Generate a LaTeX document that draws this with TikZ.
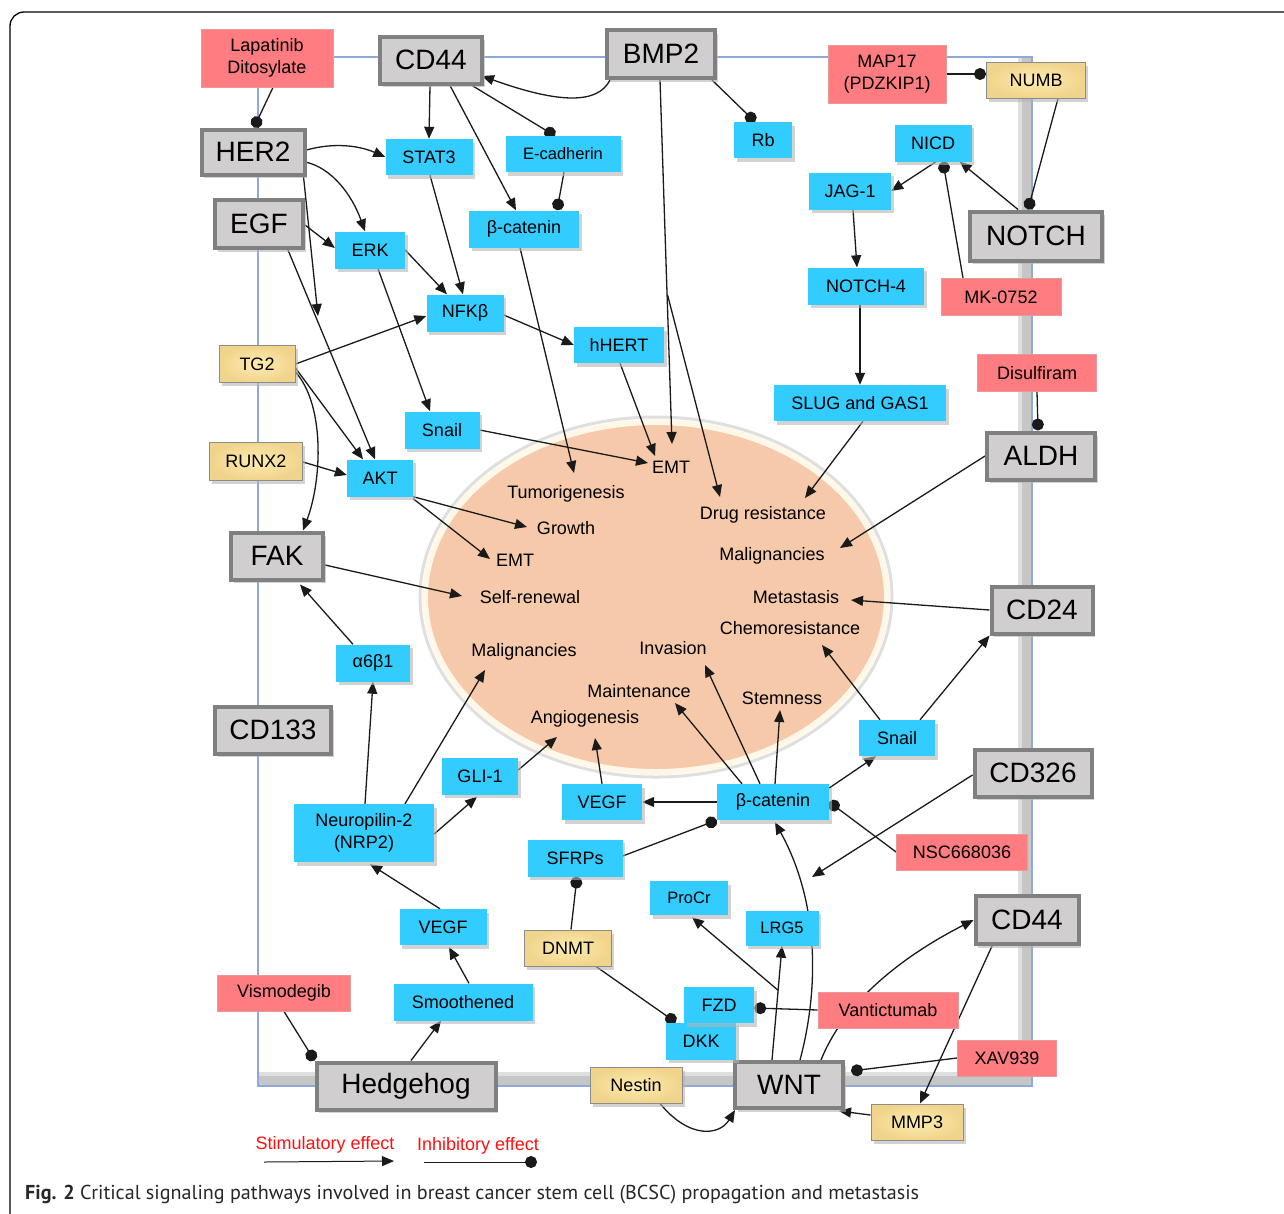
\documentclass[tikz,border=0pt]{standalone}
\usepackage{graphicx}
\usepackage{fontspec}
\setmainfont{Liberation Sans}
\newfontfamily\capfont{PT Sans}
\usetikzlibrary{arrows.meta,calc,shadows}
\definecolor{cBlue}{HTML}{33CCFF}
\definecolor{cRed}{HTML}{FF7C80}
\definecolor{cRedB}{HTML}{E89A9A}
\definecolor{cYel}{HTML}{FEECB0}
\definecolor{cYelD}{HTML}{F0D48C}
\definecolor{cYelB}{HTML}{8C8C8C}
\definecolor{cGreyF}{HTML}{D0CECE}
\definecolor{cGreyB}{HTML}{808080}
\definecolor{cPeach}{HTML}{F5C9A9}
\definecolor{cRim}{HTML}{FFF8E8}
\definecolor{cMem}{HTML}{8EAADB}
\definecolor{cLine}{HTML}{1A1A1A}
\definecolor{cLeg}{HTML}{FF1010}
\definecolor{cShadow}{HTML}{B4B4B4}
\pgfdeclarelayer{back}\pgfdeclarelayer{edge}\pgfsetlayers{back,edge,main}
\begin{document}
\begin{tikzpicture}[x=1pt,y=-1pt,
  sz/.style 2 args={minimum width=#1pt, minimum height=#2pt},
  shd/.style={drop shadow={shadow xshift=2.5pt, shadow yshift=-3.5pt, fill=cShadow, opacity=0.6}},
  gb/.style={draw=cGreyB, line width=4pt, fill=cGreyF, inner sep=0pt, font=\fontsize{28}{30}\selectfont, shd},
  bl/.style={fill=cBlue, inner sep=0pt, align=center, font=\fontsize{18}{22}\selectfont, shd},
  rd/.style={fill=cRed, draw=cRedB, line width=0.8pt, inner sep=0pt, align=center, font=\fontsize{18}{22}\selectfont},
  yl/.style={inner color=cYel, outer color=cYelD, draw=cYelB, line width=1pt, inner sep=0pt, align=center, font=\fontsize{18}{22}\selectfont, shd},
  et/.style={inner sep=1pt, font=\fontsize{18}{20}\selectfont},
  act/.style={draw=cLine, line width=1.3pt, -{Triangle[length=12pt,width=10pt]}},
  inh/.style={draw=cLine, line width=1.3pt, -{Circle[length=12pt]}},
  legtxt/.style={text=cLeg, inner sep=0pt, font=\fontsize{18}{20}\selectfont}
]
\useasboundingbox (0,0) rectangle (1284,1213);

\begin{pgfonlayer}{back}
  \draw[line width=1.3pt, rounded corners=14pt] (10,1238) -- (10,12) -- (1300,12);
  \fill[gray!45] (1022,58) rectangle (1031,1085);
  \fill[gray!45] (259,1076) rectangle (1031,1085);
  \fill[gray!25] (1018,58) rectangle (1022,1076);
  \fill[gray!25] (259,1072) rectangle (1022,1076);
  \draw[cMem, line width=1.5pt] (258,57) rectangle (1032,1086);
  \draw[gray!25, line width=3pt] (656,597) ellipse [x radius=236, y radius=180];
  \filldraw[fill=cPeach, draw=cRim, line width=6pt] (656,597) ellipse [x radius=231, y radius=175];
\end{pgfonlayer}

% grey receptors
\node[gb, sz={102}{47}] (cdt) at (431,60) {CD44};
\node[gb, sz={108}{48}] (bmp) at (661,54) {BMP2};
\node[gb, sz={103}{45}] (her) at (253,152) {HER2};
\node[gb, sz={88}{48}] (egf) at (259,224) {EGF};
\node[gb, sz={132}{49}] (notch) at (1036,236) {NOTCH};
\node[gb, sz={108}{47}] (aldh) at (1041,456) {ALDH};
\node[gb, sz={92}{47}] (fak) at (277,556) {FAK};
\node[gb, sz={101}{47}] (cdtf) at (1042,610) {CD24};
\node[gb, sz={116}{47}] (cdot) at (273,730) {CD133};
\node[gb, sz={117}{47}] (cdts) at (1033,773) {CD326};
\node[gb, sz={103}{48}] (cdb) at (1027,920) {CD44};
\node[gb, sz={179}{47}] (hh) at (406,1086) {Hedgehog};
\node[gb, sz={108}{46}] (wnt) at (789,1085) {WNT};

% blue
\node[bl, sz={87}{36}] (stat) at (429,157) {STAT3};
\node[bl, sz={115}{36}, font=\fontsize{16.5}{20}\selectfont] (ecad) at (563,154) {E-cadherin};
\node[bl, sz={58}{36}] (rb) at (763,140) {Rb};
\node[bl, sz={77}{37}] (nicd) at (933,143) {NICD};
\node[bl, sz={82}{37}] (jag) at (850,191) {JAG-1};
\node[bl, sz={110}{37}] (bct) at (524,229) {β-catenin};
\node[bl, sz={70}{37}] (erk) at (370,250) {ERK};
\node[bl, sz={116}{37}] (nfour) at (866,286) {NOTCH-4};
\node[bl, sz={77}{37}] (nfkb) at (465,313) {NFKβ};
\node[bl, sz={90}{36}] (hhert) at (619,345) {hHERT};
\node[bl, sz={172}{36}] (slug) at (860,403) {SLUG and GAS1};
\node[bl, sz={75}{37}] (snt) at (442,430) {Snail};
\node[bl, sz={66}{37}] (akt) at (380,478) {AKT};
\node[bl, sz={74}{37}] (ab) at (373,663) {α6β1};
\node[bl, sz={76}{36}] (snr) at (897,738) {Snail};
\node[bl, sz={76}{37}] (gli) at (480,776) {GLI-1};
\node[bl, sz={80}{36}] (vegm) at (602,802) {VEGF};
\node[bl, sz={112}{36}] (bcb) at (773,802) {β-catenin};
\node[bl, sz={140}{58}] (nrp) at (364,833) {Neuropilin-2\\(NRP2)};
\node[bl, sz={95}{37}] (sfrp) at (575,858) {SFRPs};
\node[bl, sz={78}{34}, font=\fontsize{16.5}{20}\selectfont] (procr) at (689,898) {ProCr};
\node[bl, sz={73}{35}, font=\fontsize{16.5}{20}\selectfont] (lrg) at (782,928) {LRG5};
\node[bl, sz={87}{36}] (vegl) at (443,927) {VEGF};
\node[bl, sz={139}{37}] (smo) at (463,1002) {Smoothened};
\node[bl, sz={70}{37}] (dkk) at (701,1041) {DKK};
\node[bl, sz={70}{36}] (fzd) at (719,1005) {FZD};

% red
\node[rd, sz={132}{58}] (lap) at (267,58) {Lapatinib\\Ditosylate};
\node[rd, sz={118}{58}] (map) at (887,74) {MAP17\\(PDZKIP1)};
\node[rd, sz={120}{37}] (mk) at (1001,297) {MK-0752};
\node[rd, sz={119}{37}] (dis) at (1037,373) {Disulfiram};
\node[rd, sz={131}{36}] (nsc) at (962,852) {NSC668036};
\node[rd, sz={140}{36}] (vant) at (888,1010) {Vantictumab};
\node[rd, sz={99}{36}] (xav) at (1007,1058) {XAV939};
\node[rd, sz={133}{36}] (vis) at (284,993) {Vismodegib};

% yellow
\node[yl, sz={99}{36}] (numb) at (1036,80) {NUMB};
\node[yl, sz={76}{37}] (tg) at (257,364) {TG2};
\node[yl, sz={93}{38}] (runx) at (256,461) {RUNX2};
\node[yl, sz={87}{36}] (dnmt) at (568,948) {DNMT};
\node[yl, sz={92}{36}] (nes) at (636,1085) {Nestin};
\node[yl, sz={92}{36}] (mmp) at (917,1122) {MMP3};

% ellipse texts
\node[et] (emtA) at (671,467) {EMT};
\node[et] (tum) at (566,494) {Tumorigenesis};
\node[et] (gro) at (566,528) {Growth};
\node[et] (drug) at (763,515) {Drug resistance};
\node[et] (emtB) at (515,560) {EMT};
\node[et] (malR) at (772,556) {Malignancies};
\node[et] (self) at (530,597) {Self-renewal};
\node[et] (meta) at (796,597) {Metastasis};
\node[et] (chemo) at (790,628) {Chemoresistance};
\node[et] (malL) at (524,652) {Malignancies};
\node[et] (inv) at (673,648) {Invasion};
\node[et] (maint) at (639,691) {Maintenance};
\node[et] (stem) at (782,698) {Stemness};
\node[et] (angio) at (585,719) {Angiogenesis};

% legend
\node[legtxt] (stim) at (325,1145) {Stimulatory effect};
\node[legtxt] (inhl) at (478,1146) {Inhibitory effect};
\coordinate (s1) at (264,1162); \coordinate (s2) at (394,1161);
\coordinate (i1) at (424,1162); \coordinate (i2) at (537,1162);
\draw[act, line width=1pt] (s1) -- (s2);
\draw[inh, line width=1pt] (i1) -- (i2);

% caption
\node[anchor=west, inner sep=0pt] (cap) at (25,1195) {\resizebox{894pt}{!}{\capfont\fontsize{20}{24}\selectfont\color{black!85}\textbf{Fig. 2} Critical signaling pathways involved in breast cancer stem cell (BCSC) propagation and metastasis}};

\begin{pgfonlayer}{edge}
\draw[inh] ($(lap.south)+(6,0)$) -- ($(her.north)+(1,0)$);
\draw[act] ($(bmp.south west)+(5,0)$) .. controls (598,104) and (560,104) .. ($(cdt.east)+(-2,16)$);
\draw[act] ($(cdt.south)+(-1,0)$) -- (stat.north);
\draw[act] ($(cdt.south)+(19,0)$) -- ($(bct.north)+(-8,0)$);
\draw[inh] ($(cdt.south)+(41,0)$) -- ($(ecad.north)+(-8,0)$);
\draw[inh] ($(ecad.south)+(1,0)$) -- ($(bct.north)+(33,0)$);
\draw[act] ($(her.east)+(0,-2)$) .. controls (335,142) and (360,146) .. (stat.west);
\draw[act] ($(her.east)+(-1,10)$) .. controls (332,168) and (352,195) .. ($(erk.north)+(-5,0)$);
\coordinate (hend) at (318,316);
\draw[act] ($(her.south east)+(-3,0)$) -- (hend);
\draw[act] ($(egf.east)+(0,1)$) -- ($(erk.west)+(0,-2)$);
\draw[act] ($(egf.south)+(29,0)$) -- ($(akt.north)+(-5,0)$);
\draw[act] (tg.east) -- ($(nfkb.west)+(0,3)$);
\draw[act] ($(tg.east)+(0,4)$) -- ($(akt.north)+(-17,0)$);
\draw[act] ($(tg.east)+(0,8)$) .. controls (325,405) and (322,480) .. ($(fak.north)+(26,0)$);
\draw[act] ($(runx.east)+(0,1)$) -- ($(akt.west)+(0,-3)$);
\draw[act] (erk.east) -- ($(nfkb.north)+(-18,0)$);
\draw[act] ($(erk.south)+(8,0)$) -- ($(snt.north)+(-12,0)$);
\draw[act] ($(stat.south)+(1,0)$) -- ($(nfkb.north)+(-2,0)$);
\draw[act] ($(nfkb.east)+(0,2)$) -- (hhert.west);
\draw[act] ($(bct.south)+(-4,0)$) -- ($(tum)+(8,-21)$);
\draw[act] ($(hhert.south)+(1,0)$) -- ($(emtA)+(-16,-11)$);
\coordinate (emtTip) at ($(emtA)+(1,-23)$);
\draw[act] ($(bmp.south)+(-1,0)$) -- (emtTip);
\coordinate (bmpBr) at ($(bmp.south)!0.59!(emtTip)$);
\draw[act] (bmpBr) -- ($(drug)+(-43,-18)$);
\draw[inh] ($(bmp.south east)+(-5,0)$) -- ($(rb.north)+(-8,0)$);
\draw[act] (snt.east) -- ($(emtA)+(-23,-4)$);
\draw[act] (akt.south east) -- ($(gro)+(-39,-1)$);
\draw[act] ($(akt.south east)+(0,2)$) -- ($(emtB)+(-25,-1)$);
\draw[act] ($(fak.east)+(0,9)$) -- ($(self)+(-68,-1)$);
\draw[act] ($(ab.north)+(-20,0)$) -- ($(fak.south)+(23,3)$);
\draw[act] ($(nrp.north)+(1,0)$) -- (ab.south);
\draw[act] ($(nrp.north)+(41,0)$) -- ($(malL)+(-39,18)$);
\draw[act] ($(nrp.east)+(0,1)$) -- ($(gli.south)+(-3,2)$);
\draw[act] ($(gli.east)+(0,-6)$) -- ($(angio)+(-28,18)$);
\draw[act] (vegm.north) -- ($(angio)+(10,19)$);
\draw[act] (bcb.west) -- (vegm.east);
\draw[act] ($(bcb.north)+(-31,0)$) -- ($(maint)+(36,12)$);
\draw[act] ($(bcb.north)+(-13,0)$) -- ($(inv)+(32,17)$);
\draw[act] ($(bcb.north)+(2,0)$) -- ($(stem)+(-2,12)$);
\draw[act] ($(bcb.east)+(0,-14)$) -- ($(snr.south)+(-21,0)$);
\draw[act] ($(snr.north)+(-17,0)$) -- ($(chemo)+(32,17)$);
\draw[act] ($(snr.north)+(23,0)$) -- (cdtf.south west);
\draw[act] (cdtf.west) -- ($(meta)+(55,3)$);
\draw[act] (aldh.west) -- ($(malR)+(68,-8)$);
\draw[act] ($(slug.south)+(3,0)$) -- ($(drug)+(42,-17)$);
\draw[act] ($(nfour.south)+(-6,0)$) -- (slug.north);
\draw[act] ($(jag.south)+(3,0)$) -- ($(nfour.north)+(-9,0)$);
\draw[act] ($(nicd.south)+(3,0)$) -- (jag.east);
\draw[act] ($(notch.north)+(-18,0)$) -- ($(nicd.south east)+(-12,0)$);
\draw[inh] ($(mk.north)+(-38,0)$) -- ($(nicd.south)+(10,0)$);
\draw[inh] ($(numb.south)+(22,0)$) -- ($(notch.north)+(-8,0)$);
\draw[inh] (map.east) -- ($(numb.west)+(0,-6)$);
\draw[inh] (dis.south) -- ($(aldh.north)+(-3,0)$);
\coordinate (cend) at (812,877);
\draw[act] ($(cdts.west)+(0,2)$) -- (cend);
\draw[inh] (nsc.west) -- (bcb.east);
\draw[inh] ($(sfrp.east)+(0,-2)$) -- (bcb.south west);
\draw[inh] ($(dnmt.north)+(3,0)$) -- ($(sfrp.south)+(2,0)$);
\draw[inh] ($(dnmt.south east)+(-16,0)$) -- ($(dkk.north west)+(10,0)$);
\draw[act] ($(wnt.north)+(11,0)$) .. controls (820,985) and (818,900) .. ($(bcb.south)+(2,2)$);
\coordinate (wntL) at ($(wnt.north)+(-17,0)$);
\draw[act] (wntL) -- (lrg.south);
\coordinate (wntB) at ($(wntL)!0.61!(lrg.south)$);
\draw[act] (wntB) -- ($(procr.south)+(3,2)$);
\draw[inh] (vant.west) -- ($(fzd.east)+(0,3)$);
\draw[act] ($(wnt.north)+(32,0)$) .. controls (845,1000) and (905,955) .. (cdb.west);
\draw[act] ($(cdb.south)+(-35,0)$) -- ($(mmp.north)+(3,0)$);
\draw[inh] (xav.west) -- ($(wnt.east)+(6,-14)$);
\draw[act] ($(mmp.west)+(0,-7)$) -- ($(wnt.south east)+(-6,1)$);
\draw[act] ($(nes.south)+(24,0)$) .. controls (690,1140) and (720,1135) .. ($(wnt.south west)+(2,0)$);
\draw[inh] (vis.south) -- (hh.north west);
\draw[act] ($(hh.north)+(5,0)$) -- ($(smo.south)+(-22,0)$);
\draw[act] ($(smo.north)+(6,0)$) -- ($(vegl.south)+(6,2)$);
\draw[act] ($(vegl.north)+(-3,0)$) -- ($(nrp.south)+(6,2)$);
\end{pgfonlayer}
\end{tikzpicture}
\end{document}
